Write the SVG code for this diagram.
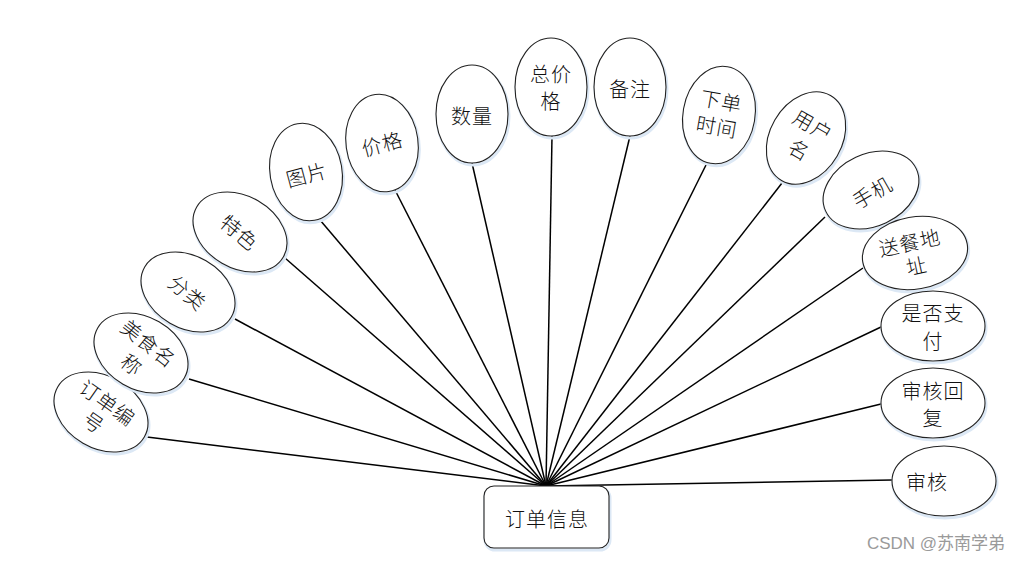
<svg xmlns="http://www.w3.org/2000/svg" width="1019" height="561" viewBox="0 0 1019 561">
<style>
.e{fill:#fff;stroke:#222;stroke-width:1.1}
.s{fill:none;stroke:#dce8f5;stroke-width:3}
.t{font-family:"Noto Sans CJK SC","Noto Sans",sans-serif;font-size:20px;font-weight:300;fill:#111;text-anchor:middle;dominant-baseline:central;letter-spacing:1px}
.c line{stroke:#000;stroke-width:1.5}
.wm{font-family:"Liberation Sans","Noto Sans CJK SC",sans-serif;font-size:17px;fill:#9a9a9a;text-anchor:middle;dominant-baseline:central}
</style>
<defs>
<ellipse id="h" rx="50" ry="36"/>
<ellipse id="v" rx="36" ry="49"/>
<ellipse id="w" rx="52" ry="35"/>
</defs>
<rect width="1019" height="561" fill="#fff"/>
<g class="c" id="connectors">
<line x1="147" y1="437" x2="546" y2="486"/>
<line x1="189" y1="379" x2="546" y2="486"/>
<line x1="235" y1="319" x2="546" y2="486"/>
<line x1="285" y1="258" x2="546" y2="486"/>
<line x1="320" y1="220" x2="546" y2="486"/>
<line x1="395" y1="190" x2="546" y2="486"/>
<line x1="472" y1="163" x2="546" y2="486"/>
<line x1="552" y1="136" x2="546" y2="486"/>
<line x1="630" y1="136" x2="546" y2="486"/>
<line x1="707" y1="163" x2="546" y2="486"/>
<line x1="782" y1="183" x2="546" y2="486"/>
<line x1="825" y1="217" x2="546" y2="486"/>
<line x1="863" y1="268" x2="546" y2="486"/>
<line x1="881" y1="327" x2="546" y2="486"/>
<line x1="881" y1="404" x2="546" y2="486"/>
<line x1="892" y1="480" x2="546" y2="486"/>
</g>
<g id="n-main">
<rect x="485" y="488" width="125" height="62" rx="10" fill="none" stroke="#dce8f5" stroke-width="3"/>
<rect x="484" y="486" width="125" height="62" rx="10" fill="#fff" stroke="#222" stroke-width="1.1"/>
<text class="t" x="547" y="518">订单信息</text>
</g>
<g id="n1" transform="translate(101,412)">
<use href="#h" class="s" transform="translate(1,2) rotate(30)"/>
<use href="#h" class="e" transform="rotate(30)"/>
<g transform="rotate(35)"><text class="t" x="0" y="-12">订单编</text><text class="t" x="0" y="12">号</text></g>
</g>
<g id="n2" transform="translate(141,353)">
<use href="#h" class="s" transform="translate(1,2) rotate(30)"/>
<use href="#h" class="e" transform="rotate(30)"/>
<g transform="rotate(38)"><text class="t" x="0" y="-13">美食名</text><text class="t" x="0" y="14">称</text></g>
</g>
<g id="n3" transform="translate(188,292)">
<use href="#h" class="s" transform="translate(1,2) rotate(30)"/>
<use href="#h" class="e" transform="rotate(30)"/>
<text class="t" transform="rotate(40)">分类</text>
</g>
<g id="n4" transform="translate(240,232)">
<use href="#h" class="s" transform="translate(1,2) rotate(30)"/>
<use href="#h" class="e" transform="rotate(30)"/>
<text class="t" transform="rotate(40)">特色</text>
</g>
<g id="n5" transform="translate(306,172)">
<use href="#v" class="s" transform="translate(1,2) rotate(-10)"/>
<use href="#v" class="e" transform="rotate(-10)"/>
<text class="t" transform="rotate(-15)" y="2">图片</text>
</g>
<g id="n6" transform="translate(382,143)">
<use href="#v" class="s" transform="translate(1,2) rotate(-8)"/>
<use href="#v" class="e" transform="rotate(-8)"/>
<text class="t" transform="rotate(-15)">价格</text>
</g>
<g id="n7" transform="translate(472,114)">
<use href="#v" class="s" transform="translate(1,2)"/>
<use href="#v" class="e"/>
<text class="t" y="1">数量</text>
</g>
<g id="n8" transform="translate(551,87)">
<use href="#v" class="s" transform="translate(1,2)"/>
<use href="#v" class="e"/>
<text class="t" y="-14">总价</text><text class="t" y="13">格</text>
</g>
<g id="n9" transform="translate(630,87)">
<use href="#v" class="s" transform="translate(1,2)"/>
<use href="#v" class="e"/>
<text class="t" y="1">备注</text>
</g>
<g id="n10" transform="translate(719,115)">
<use href="#v" class="s" transform="translate(1,2) rotate(10)"/>
<use href="#v" class="e" transform="rotate(10)"/>
<g transform="rotate(10)"><text class="t" y="-15">下单</text><text class="t" y="11">时间</text></g>
</g>
<g id="n11" transform="translate(806,138)">
<use href="#v" class="s" transform="translate(1,2) rotate(30)"/>
<use href="#v" class="e" transform="rotate(30)"/>
<g transform="rotate(30)"><text class="t" y="-15">用户</text><text class="t" y="13">名</text></g>
</g>
<g id="n12" transform="translate(871,190)">
<use href="#h" class="s" transform="translate(1,2) rotate(-25)"/>
<use href="#h" class="e" transform="rotate(-25)"/>
<text class="t" transform="rotate(-30)" y="2">手机</text>
</g>
<g id="n13" transform="translate(915,253)">
<ellipse class="s" rx="53" ry="36" transform="translate(1,2) rotate(-10)"/>
<ellipse class="e" rx="53" ry="36" transform="rotate(-10)"/>
<g transform="rotate(-12)"><text class="t" x="-3" y="-12">送餐地</text><text class="t" x="-1" y="12">址</text></g>
</g>
<g id="n14" transform="translate(933,326)">
<use href="#w" class="s" transform="translate(1,2)"/>
<use href="#w" class="e"/>
<text class="t" y="-14">是否支</text><text class="t" y="14">付</text>
</g>
<g id="n15" transform="translate(933,403)">
<use href="#w" class="s" transform="translate(1,2)"/>
<use href="#w" class="e"/>
<text class="t" y="-13">审核回</text><text class="t" y="14">复</text>
</g>
<g id="n16" transform="translate(944,481)">
<use href="#w" class="s" transform="translate(1,2)"/>
<use href="#w" class="e"/>
<text class="t" x="-17" y="0">审核</text>
</g>
<text class="wm" x="936" y="543">CSDN @苏南学弟</text>
</svg>
